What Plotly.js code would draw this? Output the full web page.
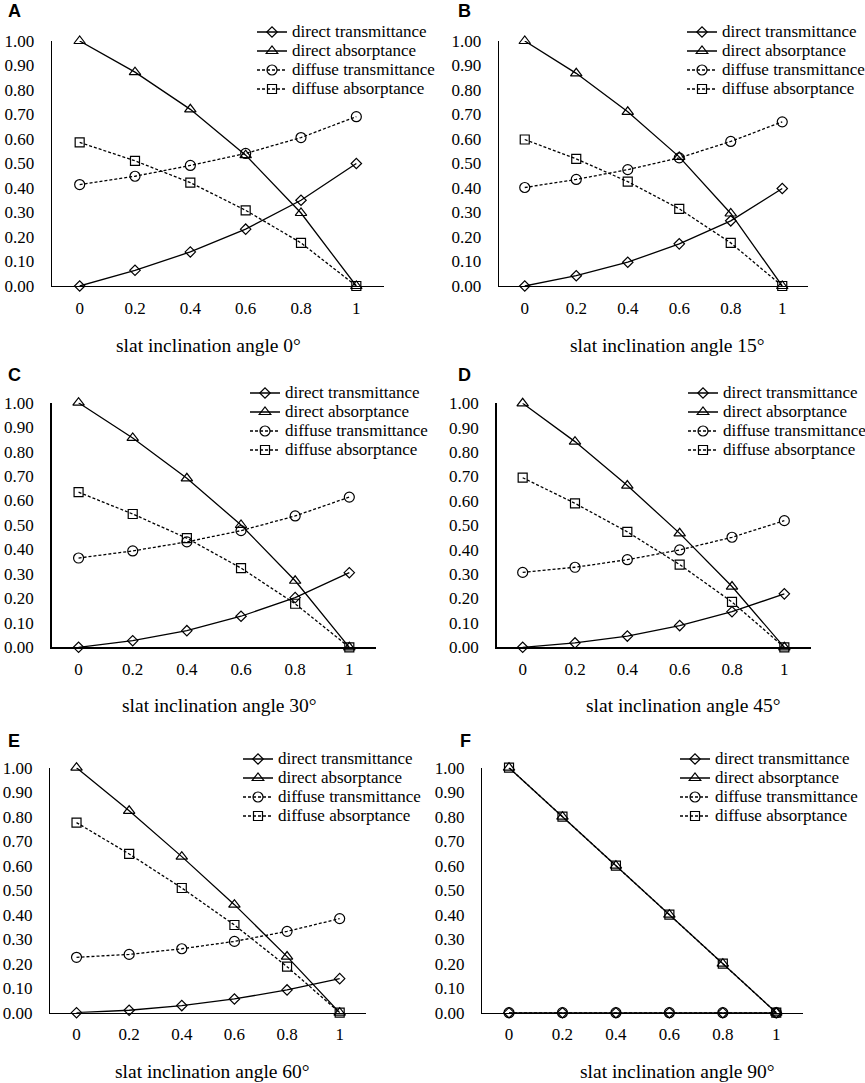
<!DOCTYPE html>
<html>
<head>
<meta charset="utf-8">
<script src="https://cdn.plot.ly/plotly-3.0.1.min.js"></script>
<style>
  html, body { margin: 0; padding: 0; background: #fff; }
  #chart_holder { width: 865px; height: 1083px; }
</style>
</head>
<body>
<div id="chart_holder"></div>
<script>
// values (A..F)
let x_values = [0, 0.2, 0.4, 0.6, 0.8, 1];
let x_labels = ["0", "0.2", "0.4", "0.6", "0.8", "1"];
let panel_letters = ["A", "B", "C", "D", "E", "F"];
let panel_titles = [
    "slat inclination angle 0°",
    "slat inclination angle 15°",
    "slat inclination angle 30°",
    "slat inclination angle 45°",
    "slat inclination angle 60°",
    "slat inclination angle 90°"
];
let series_names = ["direct transmittance", "direct absorptance", "diffuse transmittance", "diffuse absorptance"];

let direct_transmittance = [
    [0, 0.064, 0.139, 0.232, 0.350, 0.500],
    [0, 0.042, 0.097, 0.172, 0.266, 0.398],
    [0, 0.027, 0.068, 0.127, 0.203, 0.305],
    [0, 0.018, 0.046, 0.089, 0.146, 0.219],
    [0, 0.010, 0.029, 0.056, 0.093, 0.139],
    [0, 0, 0, 0, 0, 0]
];
let direct_absorptance = [
    [1, 0.873, 0.721, 0.534, 0.298, 0],
    [1, 0.868, 0.711, 0.527, 0.296, 0],
    [1, 0.856, 0.691, 0.500, 0.272, 0],
    [1, 0.843, 0.663, 0.467, 0.249, 0],
    [1, 0.824, 0.637, 0.441, 0.229, 0],
    [1, 0.8, 0.6, 0.4, 0.2, 0]
];
let diffuse_transmittance = [
    [0.414, 0.448, 0.492, 0.541, 0.606, 0.691],
    [0.402, 0.435, 0.475, 0.523, 0.590, 0.670],
    [0.365, 0.394, 0.431, 0.477, 0.537, 0.614],
    [0.307, 0.328, 0.359, 0.399, 0.451, 0.519],
    [0.226, 0.238, 0.261, 0.291, 0.332, 0.384],
    [0, 0, 0, 0, 0, 0]
];
let diffuse_absorptance = [
    [0.586, 0.511, 0.422, 0.309, 0.176, 0],
    [0.598, 0.519, 0.426, 0.315, 0.176, 0],
    [0.634, 0.545, 0.446, 0.324, 0.178, 0],
    [0.695, 0.590, 0.473, 0.339, 0.186, 0],
    [0.776, 0.648, 0.509, 0.358, 0.188, 0],
    [1, 0.8, 0.6, 0.4, 0.2, 0]
];

let W = 865, H = 1083;
let serif = "Liberation Serif";
let sans = "Liberation Sans";

// plot areas in pixels: [left, right, top, bottom]
let boxes = [
    [52, 384, 41, 286], [499, 808, 41, 286],
    [51.5, 376.4, 402.7, 647.3], [496.5, 810.5, 403.3, 647.3],
    [50.2, 366, 767.7, 1012.7], [482.3, 803, 767.7, 1012.7]
];
// legend top-left corners in pixels
let legend_pos = [[252, 17.5], [682, 17.5], [245, 378.5], [683, 378.5], [238, 744.5], [675, 744.5]];
// title centres and letter positions in pixels
let title_pos = [[208, 345], [667, 345], [219, 705], [683, 705], [212, 1071], [677, 1071]];
let letter_pos = [[6, 11], [456, 11], [6, 375], [456, 375], [6, 741], [458, 741]];

let styles = [
    { symbol: "diamond-open", size: 8, dash: "solid" },
    { symbol: "triangle-up-open", size: 10, dash: "solid" },
    { symbol: "circle-open", size: 10, dash: "3px,2px" },
    { symbol: "square-open", size: 9, dash: "3px,2px" }
];

let data = [];
let layout = {
    width: W,
    height: H,
    // legends sit close to the page edge, so keep the margins fixed
    margin: { l: 0, r: 0, t: 0, b: 0, autoexpand: false },
    paper_bgcolor: "#fff",
    plot_bgcolor: "rgba(0,0,0,0)",
    font: { family: serif, color: "#000" },
    annotations: []
};

for (let p = 0; p < 6; p++) {
    let n = p == 0 ? "" : String(p + 1);
    let b = boxes[p];
    let series = [direct_transmittance[p], direct_absorptance[p], diffuse_transmittance[p], diffuse_absorptance[p]];
    for (let s = 0; s < 4; s++) {
        data.push({
            x: x_values,
            y: series[s],
            type: "scatter",
            mode: "lines+markers",
            // legend rows are packed tighter than the text size, so the size is set on the span
            name: "<span style=\"font-size:17px\">" + series_names[s] + "</span>",
            xaxis: "x" + n,
            yaxis: "y" + n,
            legend: "legend" + n,
            cliponaxis: false,
            line: { color: "#000", width: 1.3, dash: styles[s].dash },
            marker: { symbol: styles[s].symbol, size: styles[s].size, color: "#000", line: { color: "#000", width: 1.2 } }
        });
    }
    layout["xaxis" + n] = {
        domain: [b[0] / W, b[1] / W],
        anchor: "y" + n,
        range: [-0.1, 1.1],
        tickmode: "array",
        tickvals: x_values,
        ticktext: x_labels,
        showline: true,
        linecolor: "#000",
        linewidth: 1.3,
        showgrid: false,
        zeroline: false,
        ticks: "",
        ticklabelstandoff: 6,
        tickfont: { family: serif, size: 17, color: "#000" },
        fixedrange: true
    };
    layout["yaxis" + n] = {
        domain: [1 - b[3] / H, 1 - b[2] / H],
        anchor: "x" + n,
        range: [0, 1],
        tick0: 0,
        dtick: 0.1,
        tickformat: ".2f",
        showline: true,
        linecolor: "#000",
        linewidth: 1.3,
        showgrid: false,
        zeroline: false,
        ticks: "",
        ticklabelstandoff: 13,
        tickfont: { family: serif, size: 17, color: "#000" },
        fixedrange: true
    };
    layout["legend" + n] = {
        x: legend_pos[p][0] / W,
        y: 1 - legend_pos[p][1] / H,
        xanchor: "left",
        yanchor: "top",
        bgcolor: "rgba(0,0,0,0)",
        borderwidth: 0,
        font: { family: serif, size: 12, color: "#000" }
    };
    layout.annotations.push({
        xref: "paper", yref: "paper",
        x: title_pos[p][0] / W, y: 1 - title_pos[p][1] / H,
        xanchor: "center", yanchor: "middle",
        showarrow: false,
        text: panel_titles[p],
        font: { family: serif, size: 19.5, color: "#000" }
    });
    layout.annotations.push({
        xref: "paper", yref: "paper",
        x: letter_pos[p][0] / W, y: 1 - letter_pos[p][1] / H,
        xanchor: "left", yanchor: "middle",
        showarrow: false,
        text: "<b>" + panel_letters[p] + "</b>",
        font: { family: sans, size: 18, color: "#000" }
    });
}

Plotly.newPlot("chart_holder", data, layout, { displayModeBar: false, staticPlot: true });
</script>
</body>
</html>
